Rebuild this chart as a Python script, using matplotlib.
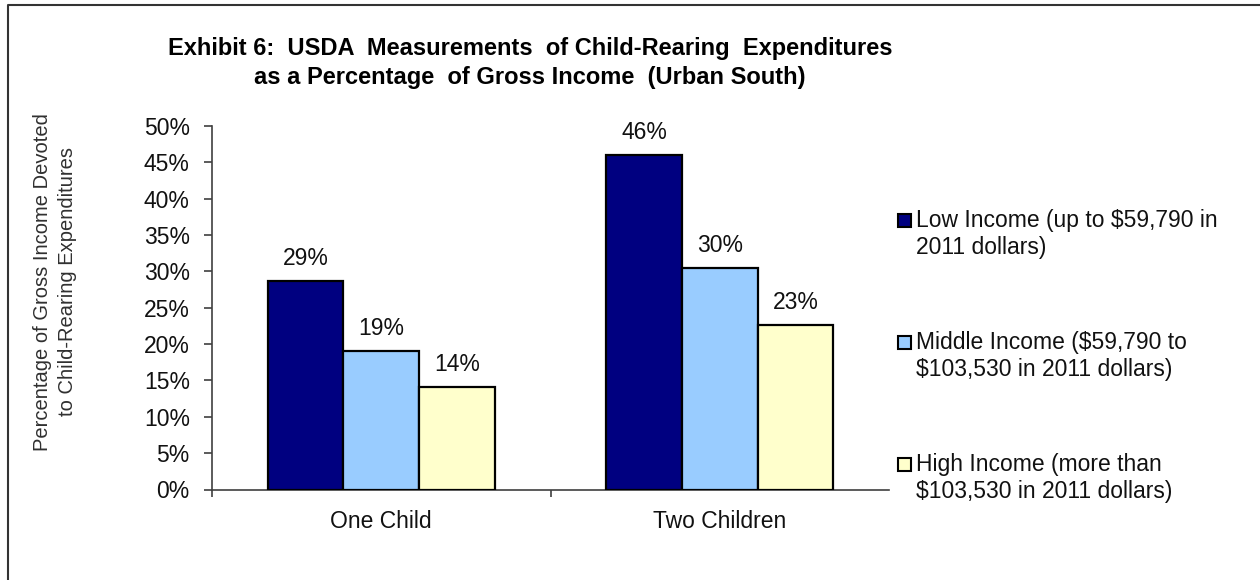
import matplotlib
matplotlib.use("Agg")
from matplotlib import pyplot as plt
from matplotlib.lines import Line2D
from matplotlib.patches import Rectangle
from matplotlib.ticker import FuncFormatter
import numpy as np

categories = ["One Child", "Two Children"]
series_names = [
    "Low Income (up to $59,790 in\n2011 dollars)",
    "Middle Income ($59,790 to\n$103,530 in 2011 dollars)",
    "High Income (more than\n$103,530 in 2011 dollars)",
]
low_income = [28.7, 46.0]
middle_income = [19.0, 30.4]
high_income = [14.1, 22.6]
colors = ["#000080", "#99CCFF", "#FFFFCC"]

plt.rcParams["font.family"] = ["Liberation Sans", "DejaVu Sans"]

W, H = 1260, 580
fig = plt.figure(figsize=(W / 100, H / 100), dpi=100)
ax = fig.add_axes([212 / W, 1 - 489.5 / H, 677 / W, 363.5 / H])

x = np.arange(len(categories))
width = 0.2236
for i, vals in enumerate([low_income, middle_income, high_income]):
    bars = ax.bar(x + (i - 1) * width, vals, width, color=colors[i],
                  edgecolor="black", linewidth=1.6, zorder=3)
    ax.bar_label(bars, labels=[f"{v:.0f}%" for v in vals], padding=8,
                 fontsize=16.5, color="#111111")

ax.set_xlim(-0.5, 1.5)
ax.set_ylim(0, 50)
ax.set_yticks(np.arange(0, 51, 5))
ax.yaxis.set_major_formatter(FuncFormatter(lambda v, p: f"{v:.0f}%"))
ax.set_xticks(x)
ax.set_xticklabels(categories)
ax.set_xticks([-0.5, 0.5], minor=True)

for s in ["top", "right"]:
    ax.spines[s].set_visible(False)
for s in ["left", "bottom"]:
    ax.spines[s].set_color("#404040")
    ax.spines[s].set_linewidth(1.2)

ax.tick_params(axis="y", direction="out", length=6, width=1.2, color="#404040",
               pad=10, labelsize=16.5, labelcolor="#111111")
ax.tick_params(axis="x", which="major", length=0, pad=15, labelsize=16.5,
               labelcolor="#111111")
ax.tick_params(axis="x", which="minor", direction="out", length=5, width=1.2,
               color="#404040")

# y-axis title, two centred lines
fig.text(55 / W, 1 - 282 / H,
         "Percentage of Gross Income Devoted\nto Child-Rearing Expenditures",
         rotation=90, ha="center", va="center", multialignment="center",
         fontsize=14.5, color="#303030", linespacing=1.45)

fig.text(530 / W, 1 - 63 / H,
         "Exhibit 6:  USDA  Measurements  of Child-Rearing  Expenditures\n"
         "as a Percentage  of Gross Income  (Urban South)",
         ha="center", va="center", multialignment="center",
         fontsize=17, fontweight="bold", linespacing=1.3,
         family=["Liberation Sans Narrow", "Liberation Sans", "DejaVu Sans"])

# legend, square next to the first line of each entry
for i, (name, c) in enumerate(zip(series_names, colors)):
    y0 = 220 + i * 122
    fig.patches.append(Rectangle((898 / W, 1 - (y0 + 6.5) / H), 13 / W, 13 / H,
                                 transform=fig.transFigure, facecolor=c,
                                 edgecolor="black", linewidth=1.5))
    fig.text(916 / W, 1 - (y0 + 14) / H, name, ha="left", va="center",
             fontsize=16.5, color="#111111", linespacing=1.25)

# outer frame, cut off at the right and bottom
fig.lines.append(Line2D([8 / W, 8 / W, 1.0], [0.0, 1 - 5 / H, 1 - 5 / H],
                        transform=fig.transFigure, color="#333333", linewidth=1.5))

fig.savefig("out.png", dpi=100, facecolor="white")
